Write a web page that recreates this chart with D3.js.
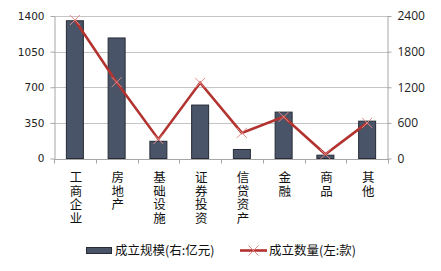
<!DOCTYPE html>
<html><head><meta charset="utf-8">
<script src="https://cdn.jsdelivr.net/npm/d3@7"></script>
<style>body{margin:0;background:#fff}</style>
</head><body>
<script>
const categories = ["工商企业","房地产","基础设施","证券投资","信贷资产","金融","商品","其他"];
const scaleValues = [2320, 2030, 290, 900, 152, 781, 56, 629];   // 成立规模 (右:亿元)
const countValues = [1360, 750, 190, 744, 252, 409, 42, 350];    // 成立数量 (左:款)
const leftTicks = [0, 350, 700, 1050, 1400];
const rightTicks = [0, 600, 1200, 1800, 2400];
const legendLabels = ["成立规模(右:亿元)", "成立数量(左:款)"];

const W = 441, H = 271;
const svg = d3.select("body").append("svg").attr("width", W).attr("height", H);
const x0 = 54, x1 = 388, yb = 158.5, yt = 16;
const x = d3.scaleBand().domain(categories).range([x0, x1]);
const yL = d3.scaleLinear().domain([0, 1400]).range([yb, yt]);
const yR = d3.scaleLinear().domain([0, 2400]).range([yb, yt]);
const cjk = "'Noto Sans CJK SC', sans-serif";
const axisCol = "#a6a6a6";

// gridlines
svg.append("g").selectAll("line").data(leftTicks.slice(1)).join("line")
  .attr("x1", x0).attr("x2", x1).attr("y1", d => Math.round(yL(d)) + 0.5).attr("y2", d => Math.round(yL(d)) + 0.5)
  .attr("stroke", "#c4c4c4").attr("stroke-width", 1);

// left axis
const gL = svg.append("g").attr("transform", `translate(${x0 + 0.5},0)`)
  .call(d3.axisLeft(yL).tickValues(leftTicks).tickFormat(d3.format("d")).tickSize(4).tickPadding(6).tickSizeOuter(0));
gL.selectAll("path,line").attr("stroke", axisCol);
gL.selectAll("text").attr("font-family", "'DejaVu Sans', Verdana, sans-serif").attr("font-size", 10.5).attr("fill", "#222");

// right axis
const gR = svg.append("g").attr("transform", `translate(${x1 - 0.5},0)`)
  .call(d3.axisRight(yR).tickValues(rightTicks).tickFormat(d3.format("d")).tickSize(4).tickPadding(6).tickSizeOuter(0));
gR.selectAll("path,line").attr("stroke", axisCol);
gR.selectAll("text").attr("font-family", "'Open Sans', sans-serif").attr("font-size", 12).attr("fill", "#222");

// bottom axis
svg.append("line").attr("x1", x0).attr("x2", x1).attr("y1", Math.round(yb) + 0.5).attr("y2", Math.round(yb) + 0.5).attr("stroke", axisCol);
const bounds = categories.map(c => x(c)).concat([x1]);
svg.append("g").selectAll("line").data(bounds).join("line")
  .attr("x1", d => Math.round(d) + 0.5).attr("x2", d => Math.round(d) + 0.5)
  .attr("y1", Math.round(yb)).attr("y2", Math.round(yb) + 4.5).attr("stroke", axisCol);

// category labels (vertical)
svg.append("g").selectAll("text").data(categories).join("text")
  .attr("x", d => x(d) + x.bandwidth() / 2 + 1).attr("y", 171)
  .attr("writing-mode", "vertical-rl")
  .style("letter-spacing", "1.1px")
  .attr("font-family", cjk).attr("font-size", 12.5).attr("fill", "#111")
  .text(d => d);

// bars
const bw = 17;
svg.append("g").selectAll("rect").data(categories).join("rect")
  .attr("x", d => x(d) + x.bandwidth() / 2 - bw / 2)
  .attr("y", (d, i) => yR(scaleValues[i]))
  .attr("width", bw)
  .attr("height", (d, i) => yb - yR(scaleValues[i]))
  .attr("fill", "#4a5468").attr("stroke", "#262b36").attr("stroke-width", 1);

// line
const pts = categories.map((c, i) => [x(c) + x.bandwidth() / 2, yL(countValues[i])]);
svg.append("path").attr("d", d3.line()(pts)).attr("fill", "none")
  .attr("stroke", "#b2332f").attr("stroke-width", 2.6).attr("stroke-linejoin", "miter");
const s = 5;
svg.append("g").selectAll("path").data(pts).join("path")
  .attr("d", p => `M${p[0]-s},${p[1]-s}L${p[0]+s},${p[1]+s}M${p[0]-s},${p[1]+s}L${p[0]+s},${p[1]-s}`)
  .attr("stroke", "#e08a88").attr("stroke-width", 1).attr("fill", "none");

// legend
const lg = svg.append("g");
lg.append("rect").attr("x", 86.5).attr("y", 247.5).attr("width", 25).attr("height", 6)
  .attr("fill", "#4a5468").attr("stroke", "#262b36");
lg.append("text").attr("x", 115).attr("y", 255).attr("font-family", cjk).attr("font-size", 12.5).attr("fill", "#111").text(legendLabels[0]);
lg.append("line").attr("x1", 240).attr("x2", 267).attr("y1", 250.5).attr("y2", 250.5).attr("stroke", "#b2332f").attr("stroke-width", 2.6);
lg.append("path").attr("d", `M${253.5-s},${250.5-s}L${253.5+s},${250.5+s}M${253.5-s},${250.5+s}L${253.5+s},${250.5-s}`)
  .attr("stroke", "#e08a88").attr("stroke-width", 1);
lg.append("text").attr("x", 269).attr("y", 255).attr("font-family", cjk).attr("font-size", 12.5).attr("fill", "#111").text(legendLabels[1]);
</script>
</body></html>
